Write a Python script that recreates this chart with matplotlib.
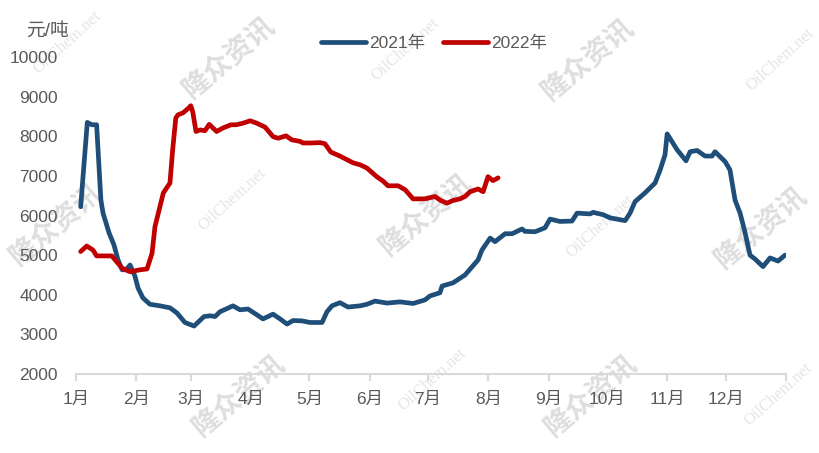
import matplotlib
matplotlib.use("Agg")
import matplotlib.pyplot as plt

plt.rcParams['font.family'] = ['Liberation Sans', 'Noto Sans CJK SC', 'DejaVu Sans']

# day of year (0 = 1 Jan) and price, yuan/ton
days_2021 = [2.4, 5.8, 8.1, 10.6, 12.8, 13.9, 17.0, 19.5, 21.6, 23.7, 25.7, 27.8, 30.3, 31.9,
             34.4, 38.0, 43.2, 48.3, 51.9, 56.0, 60.7, 65.8, 68.9, 71.5, 74.0, 80.7, 84.3,
             88.4, 93.1, 96.1, 101.3, 104.9, 108.5, 111.6, 116.2, 120.3, 126.5, 129.0, 131.6,
             135.7, 139.8, 146.0, 149.6, 153.7, 159.9, 166.6, 173.3, 179.4, 182.0, 187.1,
             188.2, 193.8, 200.0, 206.7, 208.7, 212.9, 215.4, 220.6, 224.2, 229.3, 230.8,
             236.0, 241.1, 243.7, 248.8, 255.0, 257.6, 264.3, 265.8, 271.0, 274.6, 282.3,
             284.8, 287.4, 292.5, 297.7, 300.3, 302.8, 303.9, 309.0, 313.6, 315.7, 319.3,
             323.4, 327.0, 328.5, 333.7, 336.2, 338.8, 341.4, 344.0, 346.5, 349.1, 353.2,
             356.8, 360.9, 364.5]
price_2021 = [6220, 8350, 8290, 8290, 6390, 6060, 5560, 5260, 4880, 4630, 4630, 4750, 4470, 4170,
              3920, 3760, 3720, 3670, 3540, 3300, 3210, 3450, 3470, 3450, 3570, 3720, 3620,
              3640, 3490, 3390, 3510, 3390, 3260, 3350, 3340, 3300, 3300, 3570, 3720,
              3800, 3690, 3720, 3760, 3840, 3790, 3820, 3780, 3870, 3970, 4050,
              4220, 4300, 4500, 4880, 5130, 5430, 5340, 5540, 5540, 5660, 5600,
              5590, 5690, 5910, 5850, 5860, 6060, 6040, 6080, 6020, 5940, 5870,
              6060, 6350, 6570, 6820, 7150, 7530, 8060, 7660, 7380, 7610, 7640,
              7500, 7500, 7610, 7360, 7150, 6390, 6060, 5560, 5000, 4900, 4710,
              4930, 4850, 5000]

days_2022 = [2.4, 5.5, 8.7, 10.6, 18.4, 20.1, 23.7, 27.8, 32.9, 36.5, 39.1, 40.6, 44.9, 48.3,
             49.7, 51.3, 52.4, 55.0, 57.4, 59.0, 60.0, 61.7, 63.8, 66.3, 68.5, 72.3, 75.6,
             79.7, 82.3, 85.9, 89.5, 92.9, 97.2, 101.3, 103.9, 108.0, 110.9, 115.2, 116.7,
             121.2, 125.4, 128.0, 131.0, 135.7, 142.4, 146.0, 149.5, 154.6, 157.8, 160.4,
             165.6, 169.2, 173.3, 179.4, 184.6, 187.1, 190.7, 193.8, 197.4, 200.0, 202.6,
             206.7, 209.3, 211.8, 214.4, 217.0]
price_2022 = [5090, 5230, 5130, 4980, 4980, 4880, 4670, 4580, 4630, 4650, 5050, 5720, 6570, 6820,
              7660, 8460, 8540, 8590, 8690, 8770, 8620, 8120, 8160, 8140, 8300, 8120, 8210,
              8290, 8290, 8330, 8390, 8330, 8230, 7990, 7950, 8010, 7910, 7870, 7830,
              7830, 7840, 7810, 7600, 7500, 7330, 7280, 7200, 6980, 6870, 6750,
              6750, 6650, 6420, 6420, 6480, 6390, 6310, 6380, 6420, 6480, 6600,
              6670, 6600, 6980, 6880, 6950]

month_starts = [0, 31, 59, 90, 120, 151, 181, 212, 243, 273, 304, 334, 365]
month_labels = ['1月', '2月', '3月', '4月', '5月', '6月', '7月', '8月', '9月', '10月', '11月', '12月', '']
y_ticks = [2000, 3000, 4000, 5000, 6000, 7000, 8000, 9000, 10000]

text_color = '#595959'
axis_color = '#d9d9d9'

fig = plt.figure(figsize=(8.19, 4.53), dpi=100)
ax = fig.add_axes([76 / 819, 1 - 374 / 453, 710 / 819, 317 / 453])
ax.set_zorder(1)
ax.patch.set_alpha(0)

ax.plot(days_2021, price_2021, color='#1f4e79', lw=3.4, solid_capstyle='round',
        solid_joinstyle='round', label='2021年')
ax.plot(days_2022, price_2022, color='#c00000', lw=3.4, solid_capstyle='round',
        solid_joinstyle='round', label='2022年')

ax.set_xlim(0, 365)
ax.set_ylim(2000, 10000)
ax.set_xticks(month_starts)
ax.set_xticklabels(month_labels)
ax.set_yticks(y_ticks)

for s in ['top', 'right', 'left']:
    ax.spines[s].set_visible(False)
ax.spines['bottom'].set_color(axis_color)
ax.spines['bottom'].set_linewidth(1.5)
ax.tick_params(axis='x', colors=axis_color, length=5, width=1.5, pad=8,
               labelcolor=text_color, labelsize=12.5)
ax.tick_params(axis='y', length=0, pad=13, labelcolor=text_color, labelsize=12.5)

fig.text(26 / 819, 1 - 31 / 453, '元/吨', color=text_color, fontsize=13.5, va='center', ha='left')

ax.legend(loc='center', bbox_to_anchor=(434 / 819, 1 - 43 / 453), bbox_transform=fig.transFigure,
          ncol=2, frameon=False, fontsize=12.5, handlelength=2.6, handletextpad=0.2,
          columnspacing=1.0, labelcolor=text_color)

# watermarks
for x, y in [(228, 58), (587, 60), (55, 225), (425, 215), (760, 228), (238, 396), (590, 396)]:
    fig.text(x / 819, 1 - y / 453, '隆众资讯', fontsize=20, fontweight='bold', color='#dedede',
             rotation=40, ha='center', va='center', zorder=0.5,
             family=['Noto Sans CJK SC', 'DejaVu Sans'])
for x, y in [(67, 43), (405, 50), (780, 60), (232, 200), (600, 227), (432, 380), (778, 395)]:
    fig.text(x / 819, 1 - y / 453, 'OilChem.net', fontsize=12, color='#e6e6e6',
             rotation=42, ha='center', va='center', zorder=0.5, family='Liberation Serif')

fig.savefig('out.png', dpi=100)
